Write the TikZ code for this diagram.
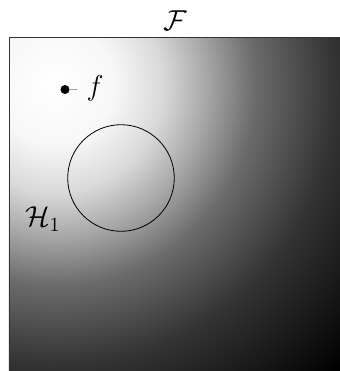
\documentclass[tikz,border=0pt]{standalone}
\pgfdeclareradialshading{bgrad}{\pgfpointorigin}{%
  color(0bp)=(white);
  color(3.75bp)=(black!3);
  color(6.75bp)=(black!15);
  color(9.4bp)=(black!34);
  color(12.5bp)=(black!58);
  color(17.5bp)=(black!80);
  color(24.4bp)=(black!98);
  color(25bp)=(black);
  color(50bp)=(black)}
\begin{document}
\begin{tikzpicture}[x=0.5pt,y=-0.5pt,
  lbl/.style={inner sep=0pt,font=\Large}]
\useasboundingbox (0,0) rectangle (340,371);
\begin{scope}
  \clip (9,37) rectangle (345,375);
  \fill[black] (9,37) rectangle (345,375);
  \shade[shading=bgrad] (55,85) circle (400);
\end{scope}
\draw[line width=0.4pt,black!80] (345,37) -- (9,37) -- (9,375);
\node[lbl] (F) at (175,21) {$\mathcal{F}$};
\node[circle,fill=black,inner sep=0pt,minimum size=4.5pt] (dot) at (65,89.5) {};
\node[lbl] (f) at (95,88) {$f$};
\coordinate (fe) at (77,89.5);
\draw[black!40,line width=0.6pt] (dot) -- (fe);
\node[circle,draw,line width=0.4pt,minimum size=53.3pt,inner sep=0pt] (H) at (121,178) {};
\node[lbl] (H1) at (43,219) {$\mathcal{H}_1$};
\end{tikzpicture}
\end{document}
